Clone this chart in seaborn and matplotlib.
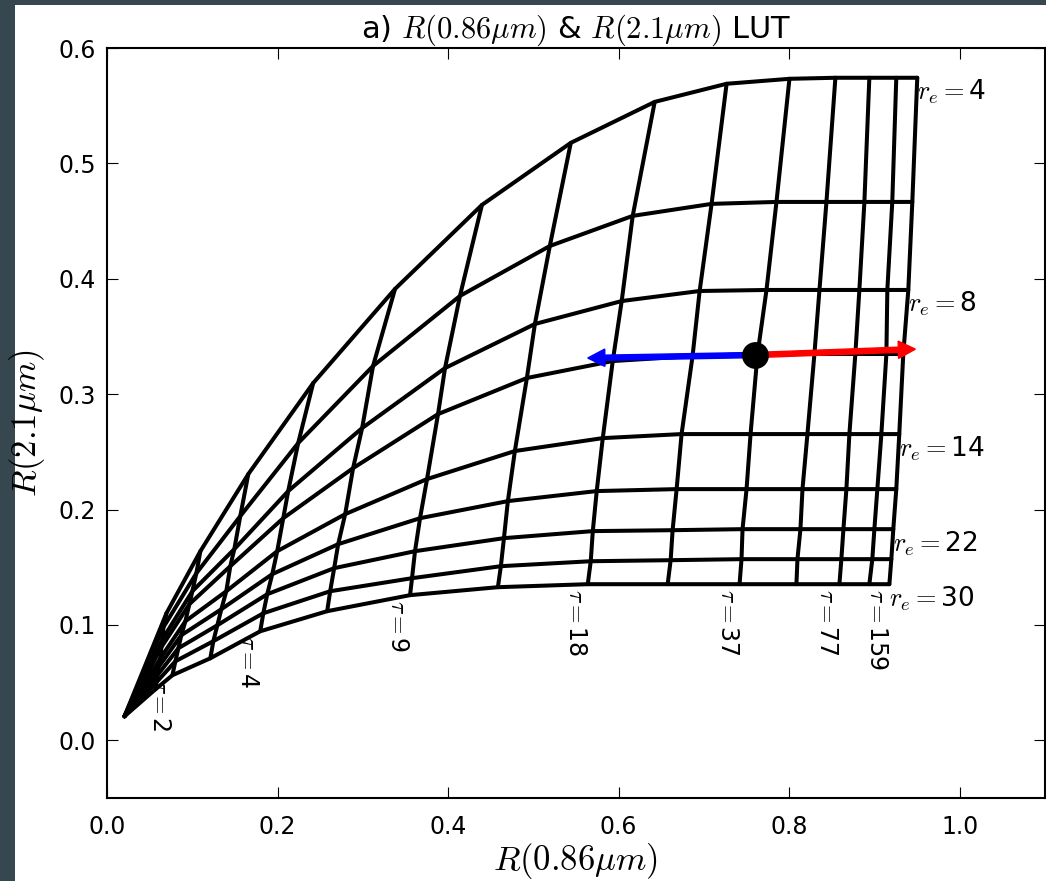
import matplotlib

matplotlib.use("Agg")
import matplotlib.pyplot as plt
import pandas as pd
import seaborn as sns
from matplotlib.patches import Rectangle

# optical thickness of each LUT column and effective radius of each LUT row
TAU = [0, 1, 2, 3, 4, 6, 9, 13, 18, 26, 37, 54, 77, 110, 159]
RE = [4, 6, 8, 10, 14, 18, 22, 26, 30]

# R(0.86um) / R(2.1um) along every r_e curve, one value per tau
R086_RE4 = [0.0205, 0.0697, 0.1095, 0.1657, 0.2418, 0.3378, 0.4397, 0.5439, 0.6423, 0.7266, 0.8003, 0.8542, 0.8940, 0.9256, 0.9502]
R21_RE4 = [0.0208, 0.1101, 0.1639, 0.2307, 0.3096, 0.3912, 0.4640, 0.5178, 0.5533, 0.5690, 0.5733, 0.5742, 0.5742, 0.5742, 0.5742]
R086_RE6 = [0.0205, 0.0662, 0.1048, 0.1563, 0.2242, 0.3120, 0.4139, 0.5193, 0.6165, 0.7090, 0.7851, 0.8437, 0.8882, 0.9209, 0.9444]
R21_RE6 = [0.0208, 0.0980, 0.1448, 0.1943, 0.2576, 0.3244, 0.3851, 0.4284, 0.4545, 0.4649, 0.4666, 0.4666, 0.4666, 0.4666, 0.4666]
R086_RE8 = [0.0205, 0.0650, 0.1001, 0.1493, 0.2125, 0.2992, 0.3964, 0.5018, 0.6036, 0.6950, 0.7734, 0.8355, 0.8823, 0.9151, 0.9397]
R21_RE8 = [0.0208, 0.0876, 0.1292, 0.1657, 0.2160, 0.2706, 0.3226, 0.3608, 0.3807, 0.3894, 0.3903, 0.3903, 0.3903, 0.3903, 0.3903]
R086_RE10 = [0.0205, 0.0638, 0.0966, 0.1446, 0.2067, 0.2886, 0.3882, 0.4924, 0.5931, 0.6867, 0.7629, 0.8296, 0.8776, 0.9140, 0.9338]
R21_RE10 = [0.0208, 0.0807, 0.1180, 0.1509, 0.1925, 0.2359, 0.2827, 0.3140, 0.3287, 0.3330, 0.3348, 0.3348, 0.3348, 0.3348, 0.3348]
R086_RE14 = [0.0205, 0.0626, 0.0919, 0.1399, 0.1996, 0.2793, 0.3753, 0.4783, 0.5814, 0.6738, 0.7547, 0.8214, 0.8706, 0.9081, 0.9291]
R21_RE14 = [0.0208, 0.0711, 0.1032, 0.1292, 0.1639, 0.1960, 0.2264, 0.2507, 0.2619, 0.2654, 0.2654, 0.2654, 0.2654, 0.2654, 0.2654]
R086_RE18 = [0.0205, 0.0603, 0.0872, 0.1341, 0.1938, 0.2711, 0.3671, 0.4701, 0.5743, 0.6680, 0.7500, 0.8156, 0.8671, 0.9034, 0.9256]
R21_RE18 = [0.0208, 0.0633, 0.0911, 0.1136, 0.1440, 0.1700, 0.1925, 0.2073, 0.2160, 0.2177, 0.2177, 0.2177, 0.2177, 0.2177, 0.2177]
R086_RE22 = [0.0205, 0.0591, 0.0837, 0.1294, 0.1879, 0.2664, 0.3612, 0.4655, 0.5697, 0.6633, 0.7453, 0.8132, 0.8636, 0.8999, 0.9221]
R21_RE22 = [0.0208, 0.0564, 0.0798, 0.0997, 0.1266, 0.1492, 0.1639, 0.1752, 0.1813, 0.1821, 0.1830, 0.1830, 0.1830, 0.1830, 0.1830]
R086_RE26 = [0.0205, 0.0580, 0.0802, 0.1247, 0.1833, 0.2617, 0.3577, 0.4619, 0.5673, 0.6610, 0.7441, 0.8097, 0.8612, 0.8975, 0.9198]
R21_RE26 = [0.0208, 0.0503, 0.0685, 0.0859, 0.1101, 0.1292, 0.1405, 0.1509, 0.1552, 0.1561, 0.1570, 0.1570, 0.1570, 0.1570, 0.1570]
R086_RE30 = [0.0205, 0.0568, 0.0767, 0.1212, 0.1797, 0.2582, 0.3554, 0.4584, 0.5638, 0.6575, 0.7418, 0.8085, 0.8589, 0.8940, 0.9175]
R21_RE30 = [0.0208, 0.0442, 0.0564, 0.0711, 0.0945, 0.1119, 0.1258, 0.1327, 0.1353, 0.1353, 0.1353, 0.1353, 0.1353, 0.1353, 0.1353]

TAU_LABELS = [2, 4, 9, 18, 37, 77, 159]
RE_LABELS = [4, 8, 14, 22, 30]

# observed pixel and the two shifted retrievals
PIXEL = (0.7594, 0.3339)
BLUE_END = (0.5638, 0.3313)
RED_END = (0.9480, 0.3390)

rows_x = [R086_RE4, R086_RE6, R086_RE8, R086_RE10, R086_RE14, R086_RE18, R086_RE22, R086_RE26, R086_RE30]
rows_y = [R21_RE4, R21_RE6, R21_RE8, R21_RE10, R21_RE14, R21_RE18, R21_RE22, R21_RE26, R21_RE30]

records = []
for re, xs, ys in zip(RE, rows_x, rows_y):
    for tau, x, y in zip(TAU, xs, ys):
        records.append({"re": re, "tau": tau, "r086": x, "r21": y})
lut = pd.DataFrame(records)

sns.set_style("ticks")
plt.rcParams.update(
    {
        "font.family": ["DejaVu Sans"],
        "mathtext.fontset": "cm",
        "text.color": "black",
        "axes.labelcolor": "black",
        "axes.edgecolor": "black",
        "xtick.color": "black",
        "ytick.color": "black",
        "xtick.direction": "in",
        "ytick.direction": "in",
        "xtick.top": True,
        "ytick.right": True,
        "xtick.major.size": 8,
        "ytick.major.size": 8,
        "axes.linewidth": 1.5,
    }
)

fig = plt.figure(figsize=(10.46, 8.81), dpi=100)
fig.patch.set_facecolor("#37474f")
fig.add_artist(Rectangle((15 / 1046, 0), 1, 876 / 881, transform=fig.transFigure, facecolor="white", edgecolor="none", zorder=-1))
ax = fig.add_axes([107 / 1046, 83 / 881, 938 / 1046, 750 / 881])

line_kw = dict(estimator=None, sort=False, color="black", linewidth=2.9, legend=False, ax=ax)
sns.lineplot(data=lut.sort_values(["re", "tau"]), x="r086", y="r21", units="re", **line_kw)
sns.lineplot(data=lut.sort_values(["tau", "re"]), x="r086", y="r21", units="tau", **line_kw)

bottom = lut[lut["re"] == RE[-1]].set_index("tau")
for tau in TAU_LABELS:
    ax.text(bottom.loc[tau, "r086"], bottom.loc[tau, "r21"] - 0.004, r"$\tau=$" + str(tau),
            rotation=270, ha="right", va="top", fontsize=17)

ends = lut[lut["tau"] == TAU[-1]].set_index("re")
for re in RE_LABELS:
    ax.text(ends.loc[re, "r086"], ends.loc[re, "r21"], r"$r_e=$" + str(re),
            ha="left", va="top", fontsize=19)

ax.arrow(PIXEL[0], PIXEL[1], BLUE_END[0] - PIXEL[0], BLUE_END[1] - PIXEL[1], width=0.0045,
         head_width=0.015, head_length=0.02, length_includes_head=True, color="blue", zorder=4)
ax.arrow(PIXEL[0], PIXEL[1], RED_END[0] - PIXEL[0], RED_END[1] - PIXEL[1], width=0.0045,
         head_width=0.015, head_length=0.02, length_includes_head=True, color="red", zorder=4)
sns.scatterplot(x=[PIXEL[0]], y=[PIXEL[1]], s=320, color="black", edgecolor="black", zorder=5, ax=ax)

ax.set_xlim(0, 1.1)
ax.set_ylim(-0.05, 0.6)
ax.set_xticks([0.0, 0.2, 0.4, 0.6, 0.8, 1.0])
ax.set_yticks([0.0, 0.1, 0.2, 0.3, 0.4, 0.5, 0.6])
ax.tick_params(labelsize=17)
ax.tick_params(axis="x", pad=12)
ax.tick_params(axis="y", pad=8)
ax.set_xlabel(r"$R(0.86\mu m)$", fontsize=25, labelpad=2)
ax.set_ylabel(r"$R(2.1\mu m)$", fontsize=25, labelpad=8)
ax.set_title(r"a) $R(0.86\mu m)$ & $R(2.1\mu m)$ LUT", fontsize=22, pad=4)

fig.savefig("out.png", dpi=100, facecolor=fig.get_facecolor())
